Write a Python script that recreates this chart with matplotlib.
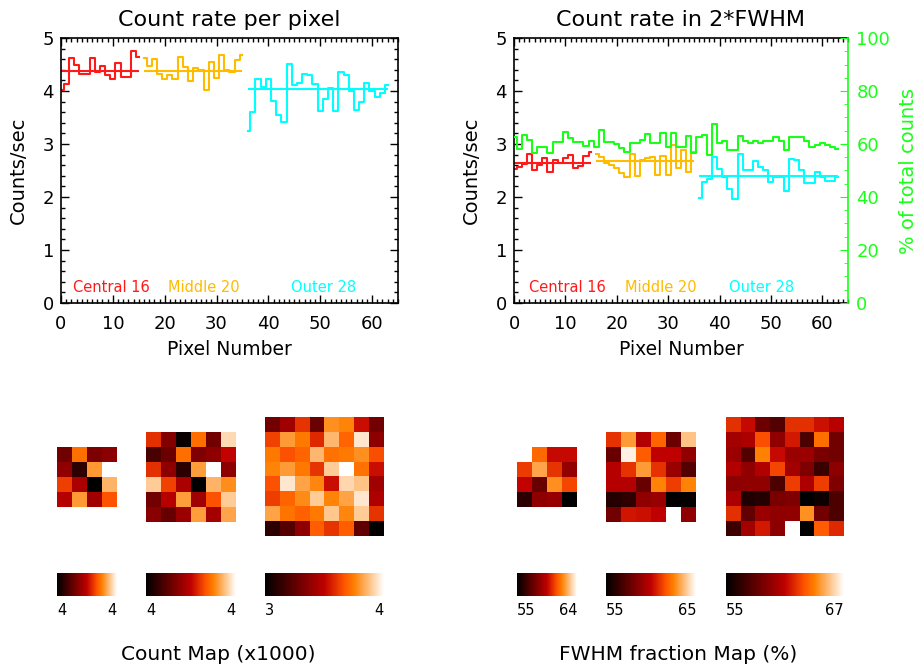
"""Count rate per pixel / in 2*FWHM, with count and FWHM fraction maps."""

import matplotlib

matplotlib.use("Agg")

import matplotlib.pyplot as plt
import numpy as np
from matplotlib.ticker import MultipleLocator

W, H = 917, 670

RED = "#ff1a1a"
ORANGE = "#ffbb00"
CYAN = "#00ffff"
GREEN = "#1aff1a"

# pixel index ranges of the three rings
pix_central = np.arange(0, 16)
pix_middle = np.arange(16, 36)
pix_outer = np.arange(36, 64)
pix_all = np.arange(0, 64)

ring_labels = ["Central 16", "Middle 20", "Outer 28"]

# count rate per pixel (counts/sec)
rate_central = [4.02, 4.14, 4.62, 4.49, 4.33, 4.33, 4.62, 4.36, 4.47, 4.30, 4.22, 4.52,
                4.26, 4.27, 4.76, 4.65]
rate_middle = [4.62, 4.48, 4.60, 4.33, 4.22, 4.30, 4.22, 4.65, 4.45, 4.18, 4.43, 4.40,
               4.02, 4.55, 4.24, 4.68, 4.40, 4.35, 4.58, 4.68]
rate_outer = [3.25, 3.61, 4.22, 4.08, 4.22, 3.82, 3.55, 3.41, 4.51, 4.11, 4.16, 4.33,
              4.30, 4.14, 3.62, 3.85, 4.06, 3.62, 4.36, 4.31, 4.00, 3.65, 3.80, 4.16,
              4.00, 3.88, 3.96, 4.11]
rate_means = [4.38, 4.38, 4.03]

# count rate inside 2*FWHM (counts/sec)
fwhm_central = [2.52, 2.57, 2.62, 2.82, 2.50, 2.60, 2.73, 2.48, 2.70, 2.65, 2.73, 2.79,
                2.54, 2.58, 2.77, 2.85]
fwhm_middle = [2.81, 2.75, 2.65, 2.60, 2.54, 2.45, 2.38, 2.82, 2.40, 2.70, 2.73, 2.75,
               2.42, 2.78, 2.42, 2.98, 2.55, 2.88, 2.48, 2.85]
fwhm_outer = [1.99, 2.29, 2.34, 2.75, 2.52, 2.38, 2.16, 1.96, 2.81, 2.51, 2.51, 2.67,
              2.57, 2.50, 2.29, 2.38, 2.38, 2.12, 2.72, 2.69, 2.50, 2.26, 2.26, 2.48,
              2.38, 2.31, 2.31, 2.38]
fwhm_means = [2.65, 2.68, 2.39]

# fraction of total counts inside 2*FWHM (%)
fwhm_percent = [62.8, 58.1, 63.5, 61.5, 56.5, 59.0, 59.0, 56.7, 60.6, 60.6, 64.7, 62.4,
                60.6, 60.6, 59.4, 61.3, 58.7, 65.3, 60.6, 60.6, 59.9, 58.6, 56.9, 60.3,
                60.3, 61.5, 63.6, 60.3, 60.3, 64.0, 59.0, 64.0, 59.0, 59.0, 63.0, 56.5,
                62.5, 63.5, 55.8, 67.5, 60.5, 61.3, 57.7, 57.7, 63.0, 61.3, 60.3, 61.3,
                60.3, 61.3, 61.3, 62.5, 61.0, 57.7, 62.5, 62.5, 62.5, 61.3, 59.0, 59.6,
                60.3, 59.6, 59.0, 58.0]

# count maps (x1000 counts)
count_map_central = [
    [4.24, 4.55, 4.26, 4.29],
    [4.30, 4.11, 4.61, 4.76],
    [4.48, 4.35, 4.02, 4.65],
    [4.37, 4.61, 4.33, 4.51],
]
count_map_middle = [
    [4.45, 4.28, 4.07, 4.53, 4.25, 4.67],
    [4.18, 4.24, 4.53, 4.27, 4.30, 4.39],
    [4.45, 4.30, 4.13, 4.59, 4.72, 4.30],
    [4.65, 4.47, 4.35, 4.05, 4.62, 4.57],
    [4.25, 4.37, 4.59, 4.33, 4.49, 4.65],
    [4.29, 4.23, 4.32, 4.59, 4.34, 4.60],
]
count_map_outer = [
    [3.63, 3.78, 4.01, 3.60, 4.23, 4.20, 3.91, 3.63],
    [4.04, 4.26, 4.18, 3.98, 4.33, 4.13, 4.45, 3.72],
    [4.18, 4.08, 4.13, 4.33, 4.16, 4.18, 4.23, 4.07],
    [4.20, 4.26, 4.18, 4.01, 4.38, 4.51, 4.16, 3.91],
    [4.08, 4.45, 4.28, 4.21, 3.91, 4.41, 4.36, 3.78],
    [4.03, 4.13, 4.22, 4.38, 4.20, 4.28, 4.45, 3.83],
    [4.28, 4.17, 4.12, 4.18, 4.37, 4.21, 4.38, 4.01],
    [3.40, 3.53, 3.72, 4.11, 4.01, 4.11, 3.57, 3.25],
]
count_ranges = [(4.02, 4.76), (4.05, 4.72), (3.25, 4.51)]

# FWHM fraction maps (%), nan = excluded pixel
nan = np.nan
fwhm_map_central = [
    [nan, 61.6, 59.9, 59.9],
    [60.8, 62.7, 60.7, 58.7],
    [59.8, 57.7, 62.3, 61.0],
    [56.3, 58.6, 58.8, 55.2],
]
fwhm_map_middle = [
    [61.5, 63.6, 60.2, 62.5, 58.3, 64.4],
    [58.2, 65.3, 62.3, 60.5, 60.5, 59.3],
    [60.3, 61.5, 63.6, 61.5, 59.5, 57.6],
    [60.3, 60.2, 58.2, 63.1, 61.7, 63.1],
    [56.4, 56.7, 59.3, 59.5, 55.4, 55.6],
    [58.5, 60.9, 60.8, 60.5, nan, 59.3],
]
fwhm_map_outer = [
    [62.5, 61.5, 58.6, 57.8, 62.5, 62.5, 61.7, 61.1],
    [60.4, 60.7, 63.2, 59.8, 61.9, 57.6, 64.0, 58.8],
    [60.1, 57.8, 64.4, 61.5, 60.1, 60.1, 59.1, 58.8],
    [60.9, 59.8, 60.9, 63.0, 60.4, 59.2, 57.0, 59.7],
    [59.7, 59.8, 59.8, 57.6, 62.8, 60.7, 62.8, 59.2],
    [60.7, 56.1, 56.3, 59.1, 59.2, 55.1, 55.5, 57.6],
    [62.5, 58.2, 60.1, 59.8, 59.8, 64.8, 58.8, 57.6],
    [57.1, 60.4, 61.9, 59.7, nan, 55.1, 63.5, 62.3],
]
fwhm_ranges = [(55.2, 64.3), (55.4, 65.6), (55.1, 67.5)]

plt.rcParams["font.family"] = ["DejaVu Sans"]


def px_axes(fig, x0, y0, x1, y1):
    """Axes placed by pixel box (top-left origin)."""
    return fig.add_axes([x0 / W, 1 - y1 / H, (x1 - x0) / W, (y1 - y0) / H])


def style_axes(ax, right_ticks=True):
    ax.set_xlim(0, 65)
    ax.set_ylim(0, 5)
    ax.xaxis.set_major_locator(MultipleLocator(10))
    ax.xaxis.set_minor_locator(MultipleLocator(1))
    ax.yaxis.set_major_locator(MultipleLocator(1))
    ax.yaxis.set_minor_locator(MultipleLocator(0.2))
    ax.tick_params(which="both", direction="in", top=True, right=right_ticks,
                   width=1.0, colors="black", labelsize=13)
    ax.tick_params(which="major", length=5.5)
    ax.tick_params(which="minor", length=2.8)
    ax.tick_params(axis="x", pad=9)
    ax.tick_params(axis="y", pad=5)
    for spine in ax.spines.values():
        spine.set_linewidth(1.2)
    ax.set_xlabel("Pixel Number", fontsize=13.5)
    ax.set_ylabel("Counts/sec", fontsize=14)
    ax.xaxis.set_label_coords(0.5, -0.14)
    ax.yaxis.set_label_coords(-0.098, 0.5)


def draw_rings(ax, series, means, label_x):
    colors = [RED, ORANGE, CYAN]
    pixels = [pix_central, pix_middle, pix_outer]
    for pix, vals, mean, color, lab, lx in zip(pixels, series, means, colors,
                                               ring_labels, label_x):
        ax.step(pix, vals, where="mid", color=color, lw=1.5)
        ax.hlines(mean, pix[0], pix[-1], color=color, lw=1.5)
        ax.text(lx, 0.3, lab, color=color, fontsize=10.5, va="center", ha="left")


fig = plt.figure(figsize=(W / 100, H / 100), dpi=100)

# left: count rate per pixel
ax1 = px_axes(fig, 61, 38, 398, 303)
style_axes(ax1)
draw_rings(ax1, [rate_central, rate_middle, rate_outer], rate_means, [2.3, 20.6, 44.4])
ax1.set_title("Count rate per pixel", fontsize=16, pad=9)

# right: count rate in 2*FWHM with % of total counts
ax2 = px_axes(fig, 514, 38, 848, 303)
style_axes(ax2, right_ticks=False)
draw_rings(ax2, [fwhm_central, fwhm_middle, fwhm_outer], fwhm_means, [2.9, 21.6, 41.8])
ax2.set_title("Count rate in 2*FWHM", fontsize=16, pad=9)
ax2.spines["right"].set_visible(False)

ax2r = ax2.twinx()
ax2r.step(pix_all, fwhm_percent, where="mid", color=GREEN, lw=1.5)
ax2r.set_ylim(0, 100)
ax2r.yaxis.set_major_locator(MultipleLocator(20))
ax2r.yaxis.set_minor_locator(MultipleLocator(5))
ax2r.tick_params(which="both", direction="in", colors=GREEN, labelsize=13, pad=6)
ax2r.tick_params(which="major", length=5.5)
ax2r.tick_params(which="minor", length=2.8)
for name, spine in ax2r.spines.items():
    spine.set_visible(name == "right")
ax2r.spines["right"].set_color(GREEN)
ax2r.spines["right"].set_linewidth(1.2)
ax2r.set_ylabel("% of total counts", color=GREEN, fontsize=14)
ax2r.yaxis.set_label_coords(1.153, 0.5)

# maps and colour bars
cmap = plt.get_cmap("gist_heat").copy()
cmap.set_bad("white")

map_boxes_left = [(57, 447, 117, 507), (146, 432, 236, 522), (265, 417, 384, 536)]
map_boxes_right = [(517, 447, 577, 507), (606, 432, 696, 522), (726, 417, 844, 536)]


def draw_maps(maps, ranges, boxes, fmt):
    for data, (lo, hi), (x0, y0, x1, y1) in zip(maps, ranges, boxes):
        axm = px_axes(fig, x0, y0, x1, y1)
        im = axm.imshow(np.ma.masked_invalid(np.array(data, dtype=float)), cmap=cmap,
                        vmin=lo, vmax=hi, interpolation="nearest", aspect="auto")
        axm.axis("off")
        cax = px_axes(fig, x0, 573, x1, 596)
        cb = fig.colorbar(im, cax=cax, orientation="horizontal", ticks=[lo, hi])
        cb.outline.set_visible(False)
        cb.set_ticklabels([fmt(lo), fmt(hi)])
        cax.tick_params(length=0, labelsize=10.5, pad=5)
        labels = cax.get_xticklabels()
        labels[0].set_ha("left")
        labels[1].set_ha("right")


draw_maps([count_map_central, count_map_middle, count_map_outer], count_ranges,
          map_boxes_left, lambda v: f"{int(v)}")
draw_maps([fwhm_map_central, fwhm_map_middle, fwhm_map_outer], fwhm_ranges,
          map_boxes_right, lambda v: f"{int(v)}")

fig.text(218 / W, 1 - 655 / H, "Count Map (x1000)", fontsize=14.5, ha="center", va="center")
fig.text(678 / W, 1 - 655 / H, "FWHM fraction Map (%)", fontsize=14.5, ha="center",
         va="center")

fig.savefig("out.png", dpi=100)
